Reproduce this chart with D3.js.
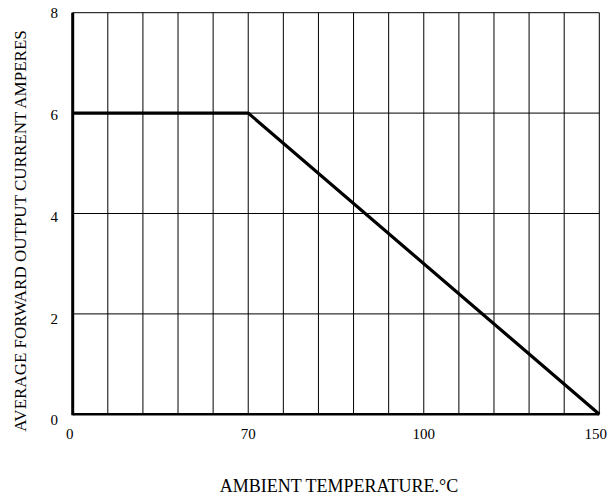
<!DOCTYPE html>
<html>
<head>
<meta charset="utf-8">
<script src="https://cdn.jsdelivr.net/npm/d3@7"></script>
<style>
  body { margin: 0; background: #fff; }
  svg { display: block; font-family: "Liberation Serif", "Times New Roman", serif; }
</style>
</head>
<body>
<svg width="608" height="498"></svg>
<script>
// derating curve
const tempTicks = [0, 70, 100, 150];
const gridTemps = [0, 14, 28, 42, 56, 70, 76, 82, 88, 94, 100, 110, 120, 130, 140, 150];
const currentTicks = [0, 2, 4, 6, 8];
const curveTemp = [0, 70, 150];
const curveAmps = [6, 6, 0];

const plotL = 72.7, plotR = 599.3, plotT = 12.7, plotB = 414.3;
const w = plotR - plotL;

const svg = d3.select("svg");

// x axis is not linear: 0-70, 70-100, 100-150 each take a third of the width
const x = d3.scaleLinear()
  .domain(tempTicks)
  .range([plotL, plotL + w / 3, plotL + 2 * w / 3, plotR]);
const y = d3.scaleLinear().domain([0, 8]).range([plotB, plotT]);
const yLab = d3.scaleLinear().domain([0, 8]).range([420, 13]);

// vertical grid
svg.append("g").selectAll("line")
  .data(gridTemps)
  .enter().append("line")
  .attr("x1", d => x(d)).attr("x2", d => x(d))
  .attr("y1", plotT).attr("y2", plotB)
  .attr("stroke", "#000").attr("stroke-width", 1);

// horizontal grid
svg.append("g").selectAll("line")
  .data(currentTicks)
  .enter().append("line")
  .attr("x1", plotL).attr("x2", plotR)
  .attr("y1", d => y(d)).attr("y2", d => y(d))
  .attr("stroke", "#000").attr("stroke-width", 1);

// axes (thick)
svg.append("line")
  .attr("x1", x(0)).attr("x2", x(0)).attr("y1", plotT).attr("y2", plotB + 1)
  .attr("stroke", "#000").attr("stroke-width", 3);
svg.append("line")
  .attr("x1", x(0)).attr("x2", plotR).attr("y1", y(0)).attr("y2", y(0))
  .attr("stroke", "#000").attr("stroke-width", 2.5);

// curve
const line = d3.line().x(d => x(d[0])).y(d => y(d[1]));
svg.append("path")
  .datum(curveTemp.map((t, i) => [t, curveAmps[i]]))
  .attr("d", line)
  .attr("fill", "none")
  .attr("stroke", "#000")
  .attr("stroke-width", 3.2);

// tick labels
svg.append("g").selectAll("text")
  .data(currentTicks)
  .enter().append("text")
  .attr("x", 58).attr("y", d => yLab(d))
  .attr("dy", "0.35em")
  .attr("text-anchor", "end")
  .style("font-size", "15px")
  .text(d => d);

const last = tempTicks[tempTicks.length - 1];
svg.append("g").selectAll("text")
  .data(tempTicks)
  .enter().append("text")
  .attr("x", d => d === 0 ? x(d) - 3 : d === last ? 607 : x(d))
  .attr("y", 434)
  .attr("dy", "0.35em")
  .attr("text-anchor", d => d === last ? "end" : "middle")
  .style("font-size", "15px")
  .text(d => d);

// axis titles
svg.append("text")
  .attr("x", 339).attr("y", 486)
  .attr("dy", "0.35em")
  .attr("text-anchor", "middle")
  .style("font-size", "18px")
  .text("AMBIENT TEMPERATURE.°C");

svg.append("text")
  .attr("transform", "translate(20,231) rotate(-90)")
  .attr("dy", "0.35em")
  .attr("text-anchor", "middle")
  .style("font-size", "17px")
  .text("AVERAGE FORWARD OUTPUT CURRENT AMPERES");
</script>
</body>
</html>
